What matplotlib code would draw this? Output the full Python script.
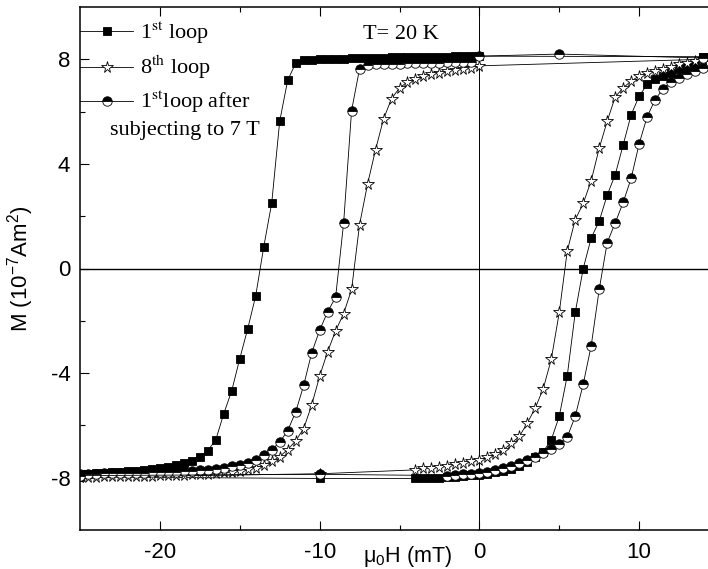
import numpy as np
import matplotlib.pyplot as plt
from matplotlib.font_manager import FontProperties

plt.rcParams['font.family'] = 'Liberation Sans'
plt.rcParams['mathtext.fontset'] = 'custom'
plt.rcParams['mathtext.rm'] = 'Liberation Sans'
plt.rcParams['mathtext.it'] = 'Liberation Sans:italic'
plt.rcParams['mathtext.bf'] = 'Liberation Sans:bold'
plt.rcParams['axes.unicode_minus'] = False

# ---- 1st loop (squares) ----
sq_dn_h = [14, 0, -0.5, -1, -1.5, -2, -2.5, -3, -3.5, -4, -4.5, -5, -5.5, -6, -6.5, -7, -7.5, -8,
           -8.5, -9, -9.5, -10, -10.5, -11, -11.5, -12, -12.5, -13, -13.5, -14, -14.5, -15, -15.5,
           -16, -16.5, -17, -17.5, -18, -18.5, -19, -19.5, -20, -20.5, -21, -21.5, -22, -22.5, -23,
           -23.5, -24, -24.5, -25]
sq_dn_m = [8.10, 8.12, 8.12, 8.11, 8.11, 8.10, 8.10, 8.09, 8.09, 8.08, 8.08, 8.07, 8.07, 8.06, 8.06,
           8.05, 8.04, 8.04, 8.03, 8.02, 8.01, 8.00, 7.99, 7.97, 7.85, 7.20, 5.63, 2.50, 0.82, -1.04,
           -2.30, -3.45, -4.67, -5.55, -6.55, -6.96, -7.19, -7.35, -7.45, -7.51, -7.58, -7.64, -7.68,
           -7.71, -7.74, -7.76, -7.78, -7.80, -7.81, -7.83, -7.84, -7.85]
sq_up_h = [-25, -10, -4, -3.5, -3, -2.5, -2, -1.5, -1, -0.5, 0, 0.5, 1, 1.5, 2, 2.5, 3, 3.5, 4, 4.5,
           5, 5.5, 6, 6.5, 7, 7.5, 8, 8.5, 9, 9.5, 10, 10.5, 11, 11.5, 12, 12.5, 13, 13.5, 14]
sq_up_m = [-7.97, -8.03, -8.03, -8.02, -8.01, -8.00, -7.98, -7.96, -7.94, -7.91, -7.88, -7.84, -7.79,
           -7.73, -7.65, -7.55, -7.40, -7.19, -7.00, -6.55, -5.65, -4.10, -1.68, 0.00, 1.17, 1.81,
           2.81, 3.58, 4.73, 5.88, 6.59, 7.04, 7.23, 7.36, 7.49, 7.62, 7.74, 7.85, 8.07]

# ---- 8th loop (stars) ----
st_dn_h = [14, 0, -0.5, -1, -1.5, -2, -2.5, -3, -3.5, -4, -4.5, -5, -5.5, -6, -6.5, -7, -7.5, -8,
           -8.5, -9, -9.5, -10, -10.5, -11, -11.5, -12, -12.5, -13, -13.5, -14, -14.5, -15, -15.5,
           -16, -16.5, -17, -17.5, -18, -18.5, -19, -19.5, -20, -20.5, -21, -21.5, -22, -22.5, -23,
           -23.5, -24, -24.5, -25]
st_dn_m = [8.00, 7.75, 7.68, 7.64, 7.59, 7.55, 7.48, 7.43, 7.36, 7.26, 7.13, 6.91, 6.49, 5.72, 4.54,
           3.23, 1.68, -0.80, -1.73, -2.38, -3.18, -4.12, -5.23, -6.12, -6.59, -6.93, -7.19, -7.38,
           -7.51, -7.62, -7.68, -7.73, -7.77, -7.80, -7.82, -7.84, -7.86, -7.87, -7.88, -7.89, -7.90,
           -7.91, -7.92, -7.93, -7.93, -7.94, -7.94, -7.95, -7.95, -7.96, -7.96, -7.97]
st_up_h = [-25, -10, -4, -3.5, -3, -2.5, -2, -1.5, -1, -0.5, 0, 0.5, 1, 1.5, 2, 2.5, 3, 3.5, 4, 4.5,
           5, 5.5, 6, 6.5, 7, 7.5, 8, 8.5, 9, 9.5, 10, 10.5, 11, 11.5, 12, 12.5, 13, 13.5, 14]
st_up_m = [-7.98, -7.85, -7.70, -7.64, -7.61, -7.58, -7.54, -7.49, -7.45, -7.38, -7.32, -7.22, -7.10,
           -6.94, -6.68, -6.42, -5.91, -5.33, -4.59, -3.47, -1.68, 0.67, 1.87, 2.49, 3.36, 4.60, 5.63,
           6.56, 6.91, 7.17, 7.36, 7.49, 7.55, 7.64, 7.72, 7.81, 7.87, 7.93, 8.02]

# ---- 1st loop after 7 T (half filled circles) ----
hc_dn_h = [14, 5, 0, -0.5, -1, -1.5, -2, -2.5, -3, -3.5, -4, -4.5, -5, -5.5, -6, -6.5, -7, -7.5, -8,
           -8.5, -9, -9.5, -10, -10.5, -11, -11.5, -12, -12.5, -13, -13.5, -14, -14.5, -15, -15.5,
           -16, -16.5, -17, -17.5, -18, -18.5, -19, -19.5, -20, -20.5, -21, -21.5, -22, -22.5, -23,
           -23.5, -24, -24.5, -25]
hc_dn_m = [8.05, 8.20, 8.12, 7.90, 7.89, 7.89, 7.88, 7.87, 7.86, 7.85, 7.85, 7.84, 7.83, 7.82, 7.82,
           7.81, 7.80, 7.64, 6.04, 1.73, -1.10, -1.66, -2.36, -3.23, -4.47, -5.49, -6.20, -6.64, -6.93,
           -7.15, -7.32, -7.43, -7.51, -7.57, -7.62, -7.66, -7.69, -7.72, -7.74, -7.76, -7.77, -7.78,
           -7.79, -7.80, -7.81, -7.81, -7.82, -7.82, -7.83, -7.83, -7.84, -7.84, -7.85]
hc_up_h = [-25, -10, -2, -1.5, -1, -0.5, 0, 0.5, 1, 1.5, 2, 2.5, 3, 3.5, 4, 4.5, 5, 5.5, 6, 6.5, 7,
           7.5, 8, 8.5, 9, 9.5, 10, 10.5, 11, 11.5, 12, 12.5, 13, 13.5, 14]
hc_up_m = [-7.92, -7.87, -7.92, -7.90, -7.87, -7.84, -7.83, -7.78, -7.71, -7.64, -7.55, -7.45, -7.32,
           -7.19, -7.06, -6.92, -6.72, -6.44, -5.65, -4.42, -2.95, -0.80, 0.99, 1.74, 2.53, 3.45, 4.77,
           5.80, 6.46, 6.87, 7.13, 7.29, 7.42, 7.55, 7.68]

labels = ['1$^{\\mathrm{st}}$ loop', '8$^{\\mathrm{th}}$ loop', '1$^{\\mathrm{st}}$loop after']

fig = plt.figure(figsize=(7.08, 5.69), dpi=100)
ax = fig.add_axes([80/708, 39/569, 628/708, 523/569])

ax.axhline(0, color='k', lw=1.0, zorder=1)
ax.axvline(0, color='k', lw=0.7, zorder=1)

sq = dict(color='k', lw=0.6, marker='s', ms=6, mfc='k', mec='k', mew=0.6)
st = dict(color='k', lw=0.6, marker='*', ms=8.5, mfc='white', mec='k', mew=0.6)
hc = dict(color='k', lw=0.6, marker='o', ms=6.8, fillstyle='top', mfc='k', mfcalt='white',
          mec='k', mew=0.6)

ax.plot(sq_dn_h, sq_dn_m, **sq)
l1, = ax.plot(sq_up_h, sq_up_m, **sq)
ax.plot(st_dn_h, st_dn_m, **st)
l2, = ax.plot(st_up_h, st_up_m, **st)
ax.plot(hc_dn_h, hc_dn_m, **hc)
l3, = ax.plot(hc_up_h, hc_up_m, **hc)

leg_font = FontProperties(family='Liberation Serif', size=16, math_fontfamily='stix')
ax.legend([l1, l2, l3], labels, loc='upper left', bbox_to_anchor=(0, 0.975), prop=leg_font,
          frameon=False, borderpad=0, borderaxespad=0, handlelength=2.4, handletextpad=0.3,
          labelspacing=0.35)
ax.text(0.048, 0.763, 'subjecting to 7 T', transform=ax.transAxes, va='center', ha='left',
        fontproperties=leg_font)
ax.text(0.4506, 0.948, 'T= 20 K', transform=ax.transAxes, va='center', ha='left',
        fontproperties=leg_font)

ax.set_xlim(-25, 14.31)
ax.set_ylim(-10, 10)
ax.set_xticks([-20, -10, 0, 10])
ax.set_xticks([-15, -5, 5], minor=True)
ax.set_yticks([-8, -4, 0, 4, 8])
ax.set_yticks([-6, -2, 2, 6], minor=True)
ax.tick_params(which='both', direction='in', top=True, right=False, width=0.8, labelsize=16)
ax.tick_params(which='major', length=6.5)
ax.tick_params(which='minor', length=3.6)
ax.tick_params(axis='x', pad=8.5)
ax.tick_params(axis='y', pad=7)
for s in ['left', 'bottom', 'top']:
    ax.spines[s].set_linewidth(1.1)
ax.spines['right'].set_visible(False)

ax.set_xlabel('μ$_0$H (mT)', fontsize=15.5)
ax.xaxis.set_label_coords(0.522, -0.027)
ax.set_ylabel('M (10$^{-7}$Am$^2$)', fontsize=16)
ax.yaxis.set_label_coords(-0.07, 0.5)

fig.savefig('out.png', dpi=100)
